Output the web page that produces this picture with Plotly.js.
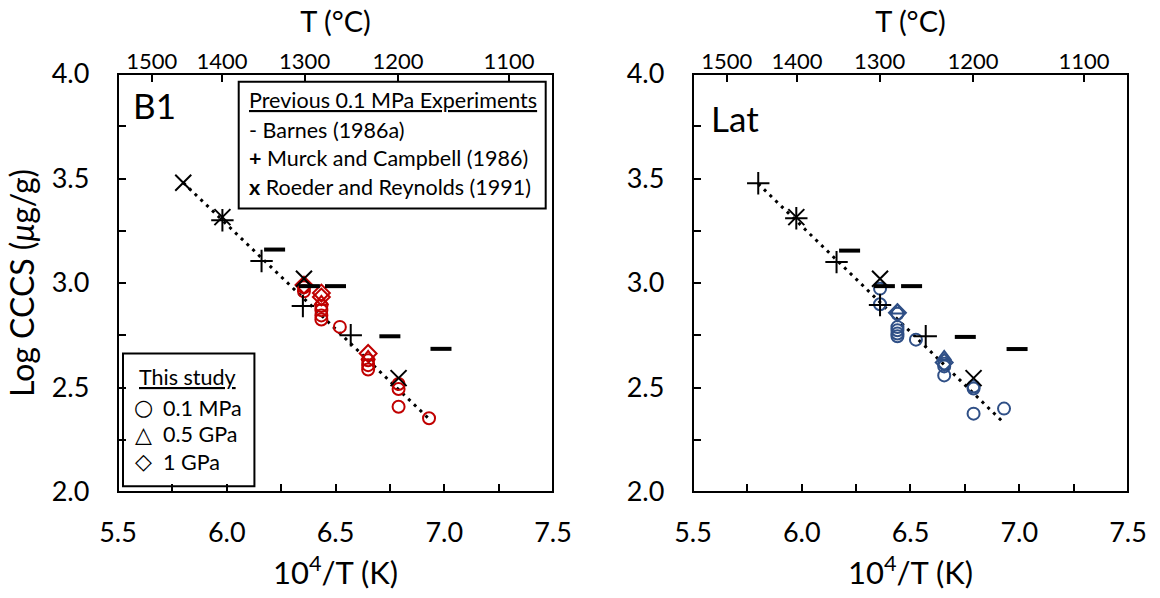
<!DOCTYPE html>
<html><head><meta charset="utf-8">
<script src="https://cdn.plot.ly/plotly-3.0.1.min.js"></script>
<style>html,body{margin:0;padding:0;background:#fff}</style>
</head><body>
<div id="chart" style="width:1160px;height:598px"></div>
<script>
// ---------- data ----------
const topTickPos  = [5.655, 5.978, 6.358, 6.787, 7.298];
const topTickText = ['1500', '1400', '1300', '1200', '1100'];

// Panel B1
const b1LineX = [5.80, 6.935];
const b1LineY = [3.48, 2.345];
const b1BarnesX = [6.22, 6.38, 6.50, 6.75, 6.985];
const b1BarnesY = [3.16, 2.985, 2.985, 2.745, 2.685];
const b1MurckX = [5.98, 6.16, 6.35, 6.57];
const b1MurckY = [3.30, 3.105, 2.89, 2.75];
const b1RoederX = [5.80, 5.98, 6.355, 6.79];
const b1RoederY = [3.48, 3.315, 3.02, 2.545];
const b1CircleX = [6.355, 6.355, 6.435, 6.435, 6.435, 6.435, 6.52, 6.65, 6.65, 6.65, 6.79, 6.79, 6.79, 6.93];
const b1CircleY = [2.98, 2.96, 2.89, 2.87, 2.845, 2.825, 2.79, 2.63, 2.607, 2.586, 2.517, 2.493, 2.408, 2.353];
const b1TriX = [6.435, 6.65];
const b1TriY = [2.91, 2.647];
const b1DiaX = [6.355, 6.435, 6.435, 6.65];
const b1DiaY = [2.99, 2.952, 2.933, 2.663];

// Panel Lat
const latLineX = [5.80, 6.93];
const latLineY = [3.475, 2.33];
const latBarnesX = [6.22, 6.38, 6.505, 6.752, 6.99];
const latBarnesY = [3.155, 2.985, 2.985, 2.742, 2.684];
const latMurckX = [5.80, 5.975, 6.16, 6.36, 6.57];
const latMurckY = [3.477, 3.31, 3.10, 2.895, 2.745];
const latRoederX = [5.975, 6.36, 6.79];
const latRoederY = [3.315, 3.02, 2.545];
const latCircleX = [6.36, 6.36, 6.44, 6.44, 6.44, 6.44, 6.44, 6.525, 6.655, 6.655, 6.655, 6.79, 6.79, 6.79, 6.93];
const latCircleY = [2.973, 2.898, 2.853, 2.789, 2.774, 2.758, 2.745, 2.729, 2.614, 2.601, 2.558, 2.505, 2.495, 2.375, 2.399];
const latTriX = [6.44, 6.655];
const latTriY = [2.869, 2.646];
const latDiaX = [6.44, 6.655];
const latDiaY = [2.858, 2.62];

// ---------- styling ----------
const FONT = 'Lato, "Open Sans", sans-serif';
const RED = '#C00000';
const BLUE = '#2F4F86';
const NB = '\u00a0\u00a0\u00a0\u00a0';

function panelTraces(xa, ya, lx, ly, bx, by, mx, my, rx, ry, cx, cy, tx, ty, dx, dy, col) {
  return [
    {x: lx, y: ly, xaxis: xa, yaxis: ya, mode: 'lines', type: 'scatter',
     line: {color: '#000', width: 3, dash: '3px,5px'}, hoverinfo: 'skip'},
    {x: cx, y: cy, xaxis: xa, yaxis: ya, mode: 'markers', type: 'scatter',
     marker: {symbol: 'circle-open', size: 12, color: col, line: {width: 2, color: col}}},
    {x: tx, y: ty, xaxis: xa, yaxis: ya, mode: 'markers', type: 'scatter',
     marker: {symbol: 'triangle-up-open', size: 12, color: col, line: {width: 2, color: col}}},
    {x: dx, y: dy, xaxis: xa, yaxis: ya, mode: 'markers', type: 'scatter',
     marker: {symbol: 'diamond-open', size: 13, color: col, line: {width: 2, color: col}}},
    {x: bx, y: by, xaxis: xa, yaxis: ya, mode: 'markers', type: 'scatter',
     marker: {symbol: 'line-ew-open', size: 15, color: '#000', line: {width: 4, color: '#000'}}},
    {x: mx, y: my, xaxis: xa, yaxis: ya, mode: 'markers', type: 'scatter',
     marker: {symbol: 'cross-thin-open', size: 16, color: '#000', line: {width: 2, color: '#000'}}},
    {x: rx, y: ry, xaxis: xa, yaxis: ya, mode: 'markers', type: 'scatter',
     marker: {symbol: 'x-thin-open', size: 16, color: '#000', line: {width: 2, color: '#000'}}}
  ];
}

// invisible carrier traces so the extra (tick-only / °C) axes get drawn
function carrier(xa, ya) {
  return {x: [5.5, 7.5], y: [null, null], xaxis: xa, yaxis: ya, mode: 'markers', type: 'scatter',
          marker: {opacity: 0}, hoverinfo: 'skip'};
}

const data = [].concat(
  [carrier('x3', 'y'), carrier('x4', 'y2'), carrier('x5', 'y'), carrier('x6', 'y2')],
  panelTraces('x', 'y', b1LineX, b1LineY, b1BarnesX, b1BarnesY, b1MurckX, b1MurckY,
              b1RoederX, b1RoederY, b1CircleX, b1CircleY, b1TriX, b1TriY, b1DiaX, b1DiaY, RED),
  panelTraces('x2', 'y2', latLineX, latLineY, latBarnesX, latBarnesY, latMurckX, latMurckY,
              latRoederX, latRoederY, latCircleX, latCircleY, latTriX, latTriY, latDiaX, latDiaY, BLUE)
);

const base = {showline: false, showgrid: false, zeroline: false, fixedrange: true};
const domL = [0, 0.4307];
const domR = [0.5693, 1];

// bottom axis carrying the labels (transparent outside ticks push labels down)
function bottomX(dom, anchor) {
  return Object.assign({}, base, {
    domain: dom, anchor: anchor, range: [5.5, 7.5], dtick: 0.5, tick0: 5.5, tickformat: '.1f',
    ticks: 'outside', ticklen: 17, tickwidth: 1, tickcolor: 'rgba(0,0,0,0)',
    tickfont: {family: FONT, size: 27, color: '#000'},
    title: {text: '10<sup>4</sup>/T (K)', font: {family: FONT, size: 31, color: '#000'}, standoff: 14}
  });
}
// bottom axis drawing only the inside tick marks
function bottomTicks(dom, anchor) {
  return Object.assign({}, base, {
    domain: dom, anchor: anchor, range: [5.5, 7.5], dtick: 0.25, tick0: 5.5,
    ticks: 'inside', ticklen: 8, tickwidth: 2, tickcolor: '#000', showticklabels: false
  });
}
function topX(dom, anchor) {
  return Object.assign({}, base, {
    domain: dom, anchor: anchor, side: 'top', range: [5.5, 7.5],
    tickmode: 'array', tickvals: topTickPos, ticktext: topTickText,
    ticks: 'inside', ticklen: 8, tickwidth: 2, tickcolor: '#000',
    tickfont: {family: FONT, size: 22, color: '#000'},
    title: {text: 'T (°C)', font: {family: FONT, size: 29, color: '#000'}, standoff: 5}
  });
}
function leftY(anchor, withTitle) {
  const o = Object.assign({}, base, {
    domain: [0, 1], anchor: anchor, range: [2, 4], dtick: 0.5, tick0: 2, tickformat: '.1f', ticksuffix: NB,
    ticks: 'inside', ticklen: 8, tickwidth: 2, tickcolor: '#000',
    minor: {dtick: 0.25, tick0: 2, ticks: 'inside', ticklen: 8, tickwidth: 2, tickcolor: '#000', showgrid: false},
    tickfont: {family: FONT, size: 27, color: '#000'}
  });
  if (withTitle) o.title = {text: 'Log CCCS (<i>μ</i>g/g)', font: {family: FONT, size: 32, color: '#000'}, standoff: 7};
  return o;
}

function txt(xr, yr, x, y, text, size, extra) {
  return Object.assign({xref: xr, yref: yr, x: x, y: y, text: text, showarrow: false,
    xanchor: 'left', yanchor: 'middle', font: {family: FONT, size: size, color: '#000'}}, extra || {});
}
const SYM = {family: '"DejaVu Sans"', size: 22, color: '#000'};

const annotations = [
  txt('x domain', 'y domain', 0.030, 0.926, 'B1', 35),
  txt('x2 domain', 'y2 domain', 0.036, 0.894, 'Lat', 35),
  // previous experiments box
  txt('x domain', 'y domain', 0.296, 0.9375, '<u>Previous 0.1 MPa Experiments</u>', 21.5),
  txt('x domain', 'y domain', 0.296, 0.8657, '- Barnes (1986a)', 21.5),
  txt('x domain', 'y domain', 0.296, 0.7987, '<b>+</b> Murck and Campbell (1986)', 21.5),
  txt('x domain', 'y domain', 0.296, 0.7293, '<b>x</b> Roeder and Reynolds (1991)', 21.5),
  // this study box
  txt('x domain', 'y domain', 0.044, 0.2754, '<u>This study</u>', 21.5),
  txt('x domain', 'y domain', 0.058, 0.2011, '○', 22, {xanchor: 'center', font: SYM}),
  txt('x domain', 'y domain', 0.058, 0.1382, '△', 22, {xanchor: 'center', font: SYM}),
  txt('x domain', 'y domain', 0.058, 0.0718, '◇', 22, {xanchor: 'center', font: SYM}),
  txt('x domain', 'y domain', 0.099, 0.2011, '0.1 MPa', 21.5),
  txt('x domain', 'y domain', 0.099, 0.1382, '0.5 GPa', 21.5),
  txt('x domain', 'y domain', 0.099, 0.0718, '1 GPa', 21.5)
];

const frame = {type: 'rect', x0: 0, x1: 1, y0: 0, y1: 1, line: {color: '#000', width: 2},
               fillcolor: 'rgba(0,0,0,0)', layer: 'above'};
const shapes = [
  Object.assign({xref: 'x domain', yref: 'y domain'}, frame),
  Object.assign({xref: 'x2 domain', yref: 'y2 domain'}, frame),
  {type: 'rect', xref: 'x domain', yref: 'y domain', x0: 0.2775, x1: 0.9832, y0: 0.6783, y1: 0.9813,
   line: {color: '#000', width: 2}, fillcolor: '#fff', layer: 'above'},
  {type: 'rect', xref: 'x domain', yref: 'y domain', x0: 0.0115, x1: 0.3136, y0: 0.0136, y1: 0.3313,
   line: {color: '#000', width: 2}, fillcolor: 'rgba(0,0,0,0)', layer: 'above'}
];

const layout = {
  width: 1160, height: 598,
  margin: {l: 118, r: 32, t: 74, b: 106},
  paper_bgcolor: '#fff', plot_bgcolor: 'rgba(0,0,0,0)',
  showlegend: false,
  font: {family: FONT, color: '#000'},
  xaxis: bottomX(domL, 'y'),
  xaxis2: bottomX(domR, 'y2'),
  xaxis3: topX(domL, 'y'),
  xaxis4: topX(domR, 'y2'),
  xaxis5: bottomTicks(domL, 'y'),
  xaxis6: bottomTicks(domR, 'y2'),
  yaxis: leftY('x', true),
  yaxis2: leftY('x2', false),
  annotations: annotations,
  shapes: shapes
};

Plotly.newPlot('chart', data, layout, {displayModeBar: false, staticPlot: true});
</script>
</body></html>
